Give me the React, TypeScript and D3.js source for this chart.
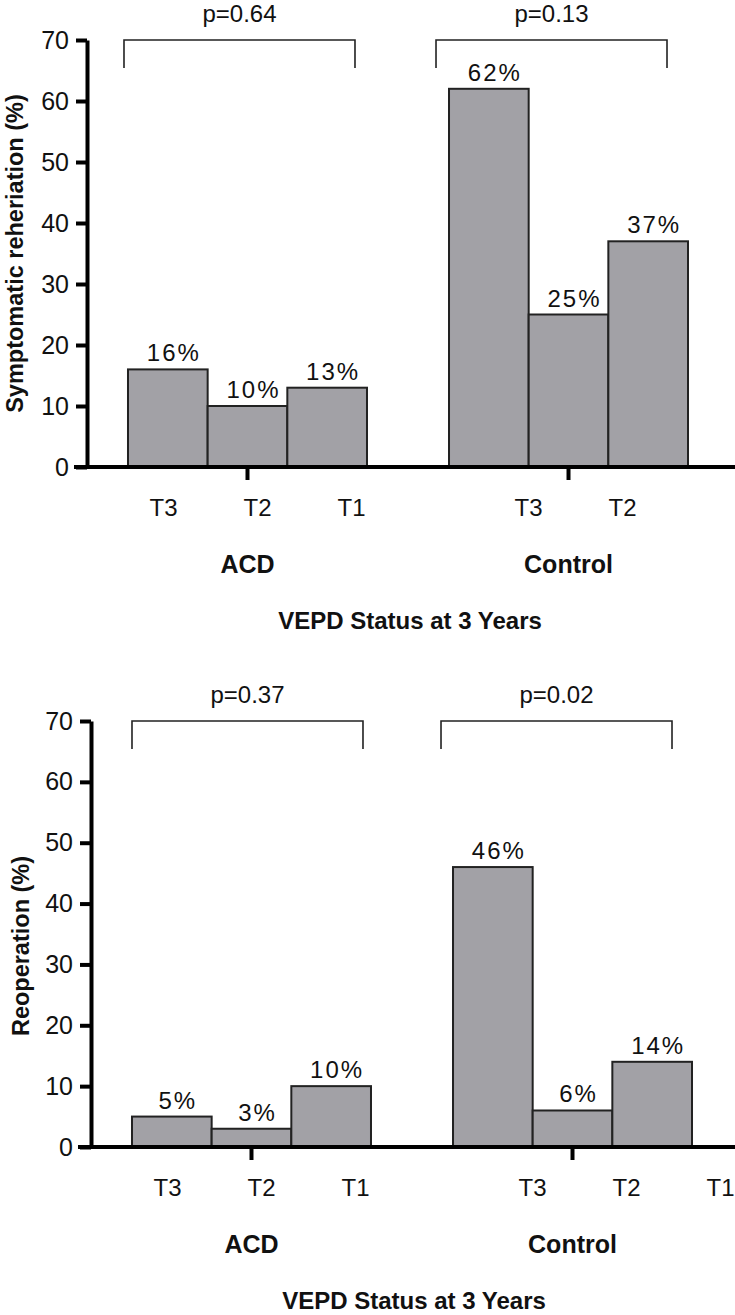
import { useEffect, useRef } from "react";
import * as d3 from "d3";

const width = 735;
const height = 1315;

// data
const groups = ["ACD", "Control"];
const timepoints = ["T3", "T2", "T1"];
const reherniation = [
  [16, 10, 13],
  [62, 25, 37],
];
const reoperation = [
  [5, 3, 10],
  [46, 6, 14],
];
const pReherniation = ["p=0.64", "p=0.13"];
const pReoperation = ["p=0.37", "p=0.02"];
const yTicks = [0, 10, 20, 30, 40, 50, 60, 70];
// the top panel lost its last "T1" under Control
const labelsReherniation = [
  ["T3", "T2", "T1"],
  ["T3", "T2"],
];
const labelsReoperation = [
  ["T3", "T2", "T1"],
  ["T3", "T2", "T1"],
];
const xTitle = "VEPD Status at 3 Years";

const panels = [
  {
    values: reherniation,
    pvals: pReherniation,
    labels: labelsReherniation,
    yTitle: "Symptomatic reheriation (%)",
    top: 40,
    bottom: 467,
    axisX: 87,
    titleX: 23,
    titleShift: 0,
    bracketShift: [-4, -13],
  },
  {
    values: reoperation,
    pvals: pReoperation,
    labels: labelsReoperation,
    yTitle: "Reoperation (%)",
    top: 721,
    bottom: 1147,
    axisX: 91,
    titleX: 29,
    titleShift: 12,
    bracketShift: [0, -12],
  },
];

const FONT = "'Liberation Sans', Arial, Helvetica, sans-serif";
const BAR_FILL = "#a2a1a6";

const App = () => {
  const ref = useRef<SVGSVGElement>(null);

  useEffect(() => {
    const svg = d3.select(ref.current);
    svg.selectAll("*").remove();
    svg.attr("font-family", FONT);

    panels.forEach((p) => {
      const g = svg.append("g");

      const y = d3.scaleLinear().domain([0, 70]).range([p.bottom, p.top]);
      const x = d3
        .scaleBand()
        .domain(groups)
        .range([p.axisX, p.axisX + 642])
        .paddingInner(0.2555)
        .paddingOuter(0.1277);
      const xi = d3
        .scaleBand()
        .domain(timepoints)
        .range([0, x.bandwidth()]);
      // tick label row is offset from the bars in the original figure
      const lbl = d3.scalePoint().domain(timepoints).range([-94, 94]);
      const lblShift = d3.scaleOrdinal<string, number>().domain(groups).range([10, 54]);

      // bars
      groups.forEach((grp, gi) => {
        const gg = g.append("g").attr("transform", `translate(${x(grp)},0)`);
        gg.selectAll("rect")
          .data(p.values[gi])
          .join("rect")
          .attr("x", (_, i) => xi(timepoints[i])!)
          .attr("y", (d) => y(d))
          .attr("width", xi.bandwidth())
          .attr("height", (d) => y(0) - y(d))
          .attr("fill", BAR_FILL)
          .attr("stroke", "#222")
          .attr("stroke-width", 2);

        gg.selectAll("text.val")
          .data(p.values[gi])
          .join("text")
          .attr("class", "val")
          .attr("x", (_, i) => xi(timepoints[i])! + xi.bandwidth() / 2 + 6)
          .attr("y", (d) => y(d) - 8)
          .attr("text-anchor", "middle")
          .attr("font-size", 24)
          .attr("letter-spacing", 2)
          .attr("fill", "#111")
          .text((d) => `${d}%`);

        // significance bracket
        const bx0 = x(grp)! + p.bracketShift[gi];
        const bx1 = bx0 + x.bandwidth() - 8;
        g.append("path")
          .attr(
            "d",
            `M${bx0},${y(65.4)}V${y(70)}H${bx1}V${y(65.4)}`
          )
          .attr("fill", "none")
          .attr("stroke", "#222")
          .attr("stroke-width", 1.6);
        g.append("text")
          .attr("x", (bx0 + bx1) / 2)
          .attr("y", y(70) - 18)
          .attr("text-anchor", "middle")
          .attr("font-size", 24)
          .attr("fill", "#111")
          .text(p.pvals[gi]);

        // group tick + labels
        const cx = x(grp)! + x.bandwidth() / 2;
        g.append("line")
          .attr("x1", cx)
          .attr("x2", cx)
          .attr("y1", y(0))
          .attr("y2", y(0) + 13)
          .attr("stroke", "#000")
          .attr("stroke-width", 4);
        g.selectAll(`text.tl${gi}`)
          .data(p.labels[gi])
          .join("text")
          .attr("class", `tl${gi}`)
          .attr("x", (d) => cx + lbl(d)! + lblShift(grp))
          .attr("y", y(0) + 49)
          .attr("text-anchor", "middle")
          .attr("font-size", 24)
          .attr("fill", "#111")
          .text((d) => d);
        g.append("text")
          .attr("x", cx)
          .attr("y", y(0) + 106)
          .attr("text-anchor", "middle")
          .attr("font-size", 25)
          .attr("font-weight", "bold")
          .attr("fill", "#111")
          .text(grp);
      });

      // x title
      g.append("text")
        .attr("x", (x("ACD")! + x("Control")! + x.bandwidth()) / 2 + 2)
        .attr("y", y(0) + 162)
        .attr("text-anchor", "middle")
        .attr("font-size", 24)
        .attr("font-weight", "bold")
        .attr("fill", "#111")
        .text(xTitle);

      // y axis
      const ya = g
        .append("g")
        .attr("transform", `translate(${p.axisX},0)`)
        .call(
          d3
            .axisLeft(y)
            .tickValues(yTicks)
            .tickSize(11)
            .tickPadding(7)
            .tickSizeOuter(0)
        );
      ya.select(".domain").attr("stroke", "#000").attr("stroke-width", 4);
      ya.selectAll(".tick line").attr("stroke", "#000").attr("stroke-width", 4);
      ya.selectAll(".tick text")
        .attr("font-size", 25)
        .attr("font-family", FONT)
        .attr("fill", "#111");

      // x axis baseline, runs to the right edge
      g.append("line")
        .attr("x1", p.axisX - 13)
        .attr("x2", width)
        .attr("y1", y(0))
        .attr("y2", y(0))
        .attr("stroke", "#000")
        .attr("stroke-width", 4);

      // y title
      g.append("text")
        .attr(
          "transform",
          `translate(${p.titleX},${(p.top + p.bottom) / 2 + p.titleShift}) rotate(-90)`
        )
        .attr("text-anchor", "middle")
        .attr("font-size", 23.5)
        .attr("font-weight", "bold")
        .attr("fill", "#111")
        .text(p.yTitle);
    });
  }, []);

  return (
    <svg
      ref={ref}
      width={width}
      height={height}
      style={{ position: "absolute", left: 0, top: 0, background: "#fff" }}
    />
  );
};

export default App;
